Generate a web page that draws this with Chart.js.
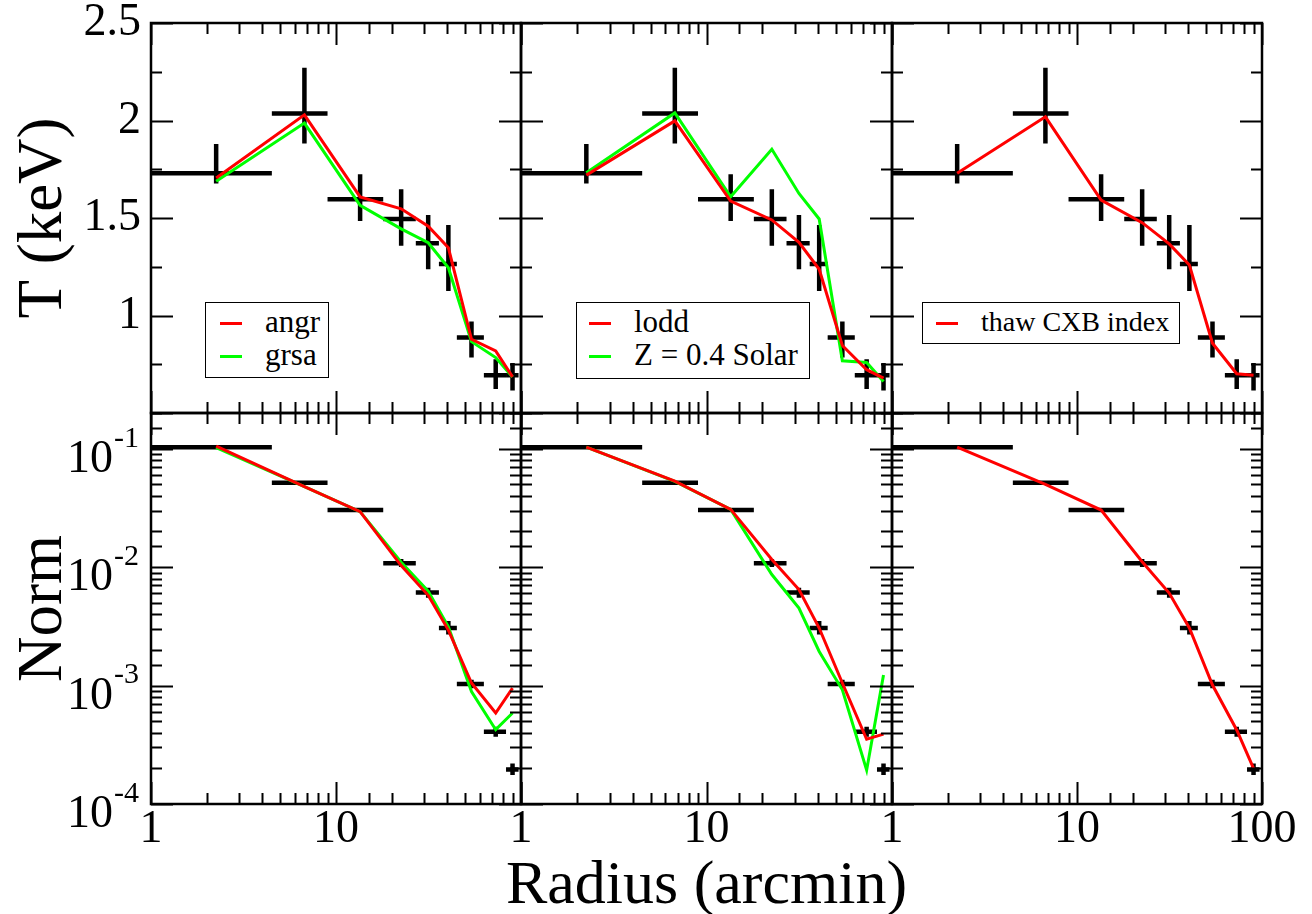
<!DOCTYPE html>
<html lang="en">
<head>
  <meta charset="UTF-8" />
  <title>T and Norm profiles</title>
  <script src="https://cdn.jsdelivr.net/npm/chart.js"></script>
  <style>
    html, body { margin: 0; padding: 0; background: #fff; }
    #wrap { position: relative; width: 1312px; height: 914px; font-family: "Liberation Serif", "Times New Roman", serif; }
    #wrap canvas { position: absolute; left: 0; top: 0; }
    .leg { position: absolute; background: #fff; border: 1.5px solid #000; box-sizing: border-box; }
    .leg .ln { position: absolute; height: 3px; width: 22px; }
    .leg .tx { position: absolute; white-space: nowrap; line-height: 32px; height: 32px; }
    #xtitle { position: absolute; left: 0; width: 1413px; top: 851px; text-align: center; font-size: 62px; line-height: 62px; white-space: nowrap; }
  </style>
</head>
<body>
  <div id="wrap">
    <div id="xtitle">Radius (arcmin)</div>
  </div>

  <script>
    // bins (arcmin)
    const radius   = [2.25, 6.75, 13.5, 22.5, 31.5, 40.5, 54, 73, 90];
    const radiusLo = [0, 4.5, 9, 18, 27, 36, 45, 63, 83];
    const radiusHi = [4.5, 9, 18, 27, 36, 45, 63, 83, 97];

    // measured temperature (keV)
    const tempObs = [1.73, 2.036, 1.596, 1.495, 1.370, 1.264, 0.887, 0.693, 0.693];
    const tempLo  = [1.677, 1.882, 1.485, 1.358, 1.237, 1.126, 0.785, 0.623, 0.616];
    const tempHi  = [1.879, 2.270, 1.724, 1.648, 1.515, 1.464, 0.969, 0.776, 0.756];

    // measured norm
    const normObs = [0.103, 0.0516, 0.0303, 0.0108, 0.0061, 0.00306, 0.00103, 0.000408, 0.000196];
    const normLo  = [0.101, 0.0505, 0.0296, 0.0100, 0.0055, 0.0027, 0.00095, 0.00037, 0.000176];
    const normHi  = [0.105, 0.0527, 0.0310, 0.0117, 0.0067, 0.0035, 0.00112, 0.00045, 0.000220];

    // fits, left column
    const tempAngr = [1.705, 2.029, 1.608, 1.547, 1.458, 1.347, 0.878, 0.818, 0.685];
    const tempGrsa = [1.688, 1.987, 1.565, 1.444, 1.373, 1.245, 0.866, 0.784, 0.685];
    const normAngr = [0.105, 0.0477, 0.0294, 0.0103, 0.00578, 0.00294, 0.00105, 0.000586, 0.00095];
    const normGrsa = [0.102, 0.0477, 0.0294, 0.0110, 0.00628, 0.00313, 0.00089, 0.000424, 0.000586];

    // fits, middle column
    const tempLodd = [1.72, 1.998, 1.587, 1.49, 1.375, 1.237, 0.846, 0.722, 0.679];
    const tempZ04  = [1.732, 2.039, 1.609, 1.853, 1.626, 1.495, 0.768, 0.759, 0.662];
    const normLodd = [0.103, 0.0532, 0.0307, 0.0116, 0.00646, 0.00306, 0.00105, 0.000352, 0.000389];
    const normZ04  = [0.103, 0.053, 0.0307, 0.00865, 0.00451, 0.00194, 0.00092, 0.000193, 0.00123];

    // fits, right column
    const tempThaw = [1.73, 2.019, 1.592, 1.476, 1.367, 1.259, 0.858, 0.701, 0.693];
    const normThaw = [0.103, 0.0499, 0.0303, 0.0111, 0.00604, 0.00306, 0.00101, 0.000422, 0.0002];

    const tempTicksShown = [1, 1.5, 2, 2.5];
    const xTicksShown = [[1, 10], [1, 10], [1, 10, 100]];

    // panel frames in page pixels
    const X0 = [151, 521, 892], X1 = [521, 892, 1262];
    const Y0 = [23, 413], Y1 = [413, 804];
    const W = 1312, H = 914;
    const FONT = '"Liberation Serif", "Times New Roman", serif';

    const wrap = document.getElementById('wrap');
    const near = (a, b) => Math.abs(a - b) < 1e-9 * Math.max(1, Math.abs(b));
    const isPow10 = v => v > 0 && Math.abs(Math.log10(v) - Math.round(Math.log10(v))) < 1e-9;

    // crosses: bin width and error range
    const errorBars = {
      id: 'errorBars',
      beforeDatasetsDraw(chart) {
        const { ctx, chartArea: a, scales: { x, y } } = chart;
        const ds = chart.data.datasets[0];
        ctx.save();
        ctx.beginPath();
        ctx.rect(a.left, a.top, a.width, a.height);
        ctx.clip();
        ctx.strokeStyle = '#000';
        ctx.lineWidth = 4.5;
        ds.data.forEach((p, i) => {
          const px = x.getPixelForValue(p.x), py = y.getPixelForValue(p.y);
          ctx.beginPath();
          ctx.moveTo(x.getPixelForValue(ds.xLo[i]), py);
          ctx.lineTo(x.getPixelForValue(ds.xHi[i]), py);
          ctx.moveTo(px, y.getPixelForValue(ds.yLo[i]));
          ctx.lineTo(px, y.getPixelForValue(ds.yHi[i]));
          ctx.stroke();
        });
        ctx.restore();
      }
    };

    // box frame with inward ticks on all four sides
    const frameTicks = {
      id: 'frameTicks',
      afterDraw(chart) {
        const { ctx, chartArea: a, scales: { x, y } } = chart;
        ctx.save();
        ctx.strokeStyle = '#000';
        ctx.lineWidth = 2;
        ctx.beginPath();
        x.ticks.forEach(t => {
          const px = Math.round(x.getPixelForValue(t.value)) + 0.5;
          const len = isPow10(t.value) ? 22 : 11;
          ctx.moveTo(px, a.bottom); ctx.lineTo(px, a.bottom - len);
          ctx.moveTo(px, a.top); ctx.lineTo(px, a.top + len);
        });
        y.ticks.forEach(t => {
          const py = Math.round(y.getPixelForValue(t.value)) + 0.5;
          const major = y.type === 'logarithmic' ? isPow10(t.value) : near(t.value * 2, Math.round(t.value * 2));
          const len = major ? 22 : 11;
          ctx.moveTo(a.left, py); ctx.lineTo(a.left + len, py);
          ctx.moveTo(a.right, py); ctx.lineTo(a.right - len, py);
        });
        ctx.stroke();
        ctx.lineWidth = 2.5;
        ctx.strokeRect(a.left, a.top, a.width, a.height);
        ctx.restore();
      }
    };

    // "10" with a raised exponent at each decade of the log axis
    const powerLabels = {
      id: 'powerLabels',
      afterDraw(chart, args, opts) {
        if (!opts.show) return;
        const { ctx, chartArea: a, scales: { y } } = chart;
        ctx.save();
        ctx.fillStyle = '#000';
        ctx.textAlign = 'right';
        ctx.textBaseline = 'middle';
        y.ticks.filter(t => isPow10(t.value)).forEach(t => {
          const py = y.getPixelForValue(t.value);
          const exp = String(Math.round(Math.log10(t.value)));
          ctx.font = '30px ' + FONT;
          const ew = ctx.measureText(exp).width;
          ctx.fillText(exp, a.left - 12, py - 10);
          ctx.font = '46px ' + FONT;
          ctx.fillText('10', a.left - 13 - ew, py + 11);
        });
        ctx.restore();
      }
    };

    const noPad = s => { s.paddingLeft = 0; s.paddingRight = 0; s.paddingTop = 0; s.paddingBottom = 0; };

    function makePanel(col, row, fits) {
      const isT = row === 0;
      const canvas = document.createElement('canvas');
      canvas.width = W;
      canvas.height = H;
      wrap.appendChild(canvas);

      const yAxisW = col === 0 ? X0[0] : 0;
      const xAxisH = row === 1 ? H - Y1[1] : 0;
      const obs = isT ? tempObs : normObs;

      const datasets = [{
        label: 'data',
        data: radius.map((r, i) => ({ x: r, y: obs[i] })),
        xLo: radiusLo, xHi: radiusHi,
        yLo: isT ? tempLo : normLo, yHi: isT ? tempHi : normHi,
        showLine: false, pointRadius: 0
      }];
      fits.forEach(f => datasets.push({
        label: f.label,
        data: radius.map((r, i) => ({ x: r, y: (isT ? f.t : f.n)[i] })),
        borderColor: f.color, borderWidth: 3, pointRadius: 0, tension: 0, fill: false
      }));

      const noGrid = { display: false, drawTicks: false };

      new Chart(canvas, {
        type: 'line',
        data: { datasets },
        options: {
          responsive: false,
          animation: false,
          layout: {
            padding: { left: X0[col] - yAxisW, right: W - X1[col], top: Y0[row], bottom: H - Y1[row] - xAxisH }
          },
          plugins: {
            legend: { display: false },
            tooltip: { enabled: false },
            powerLabels: { show: col === 0 && !isT }
          },
          scales: {
            x: {
              type: 'logarithmic', min: 1, max: 100,
              grid: noGrid, border: { display: false },
              ticks: {
                display: row === 1, autoSkip: false, maxRotation: 0, minRotation: 0, padding: -2,
                color: '#000', font: { family: FONT, size: 46 },
                callback: v => xTicksShown[col].some(s => near(v, s)) ? String(Math.round(v)) : ''
              },
              afterFit: s => { s.height = xAxisH; noPad(s); }
            },
            y: isT ? {
              type: 'linear', min: 0.5, max: 2.5,
              grid: noGrid, border: { display: false },
              ticks: {
                display: col === 0, stepSize: 0.25, autoSkip: false, padding: 10,
                color: '#000', font: { family: FONT, size: 46 },
                callback: v => tempTicksShown.some(s => near(v, s)) ? String(v) : ''
              },
              title: {
                display: col === 0, text: 'T (keV)', color: '#000',
                font: { family: FONT, size: 63, lineHeight: 1 }, padding: { top: 13, bottom: 0 }
              },
              afterFit: s => { s.width = yAxisW; noPad(s); }
            } : {
              type: 'logarithmic', min: 1e-4, max: 0.2,
              grid: noGrid, border: { display: false },
              ticks: { display: false, autoSkip: false },
              title: {
                display: col === 0, text: 'Norm', color: '#000',
                font: { family: FONT, size: 63, lineHeight: 1 }, padding: { top: 13, bottom: 0 }
              },
              afterFit: s => { s.width = yAxisW; noPad(s); }
            }
          }
        },
        plugins: [errorBars, frameTicks, powerLabels]
      });
    }

    function makeLegend(fits, box) {
      const el = document.createElement('div');
      el.className = 'leg';
      Object.assign(el.style, {
        left: box.x + 'px', top: box.y + 'px', width: box.w + 'px', height: box.h + 'px', fontSize: box.size + 'px'
      });
      fits.forEach((f, i) => {
        const cy = 20 + i * 33;
        const ln = document.createElement('span');
        ln.className = 'ln';
        Object.assign(ln.style, { left: box.line + 'px', top: (cy - 1.5) + 'px', background: f.color });
        const tx = document.createElement('span');
        tx.className = 'tx';
        tx.textContent = f.label;
        Object.assign(tx.style, { left: box.text + 'px', top: (cy - 17) + 'px' });
        el.appendChild(ln);
        el.appendChild(tx);
      });
      wrap.appendChild(el);
    }

    const fitsLeft = [
      { label: 'angr', color: '#ff0000', t: tempAngr, n: normAngr },
      { label: 'grsa', color: '#00ff00', t: tempGrsa, n: normGrsa }
    ];
    const fitsMid = [
      { label: 'lodd', color: '#ff0000', t: tempLodd, n: normLodd },
      { label: 'Z = 0.4 Solar', color: '#00ff00', t: tempZ04, n: normZ04 }
    ];
    const fitsRight = [
      { label: 'thaw CXB index', color: '#ff0000', t: tempThaw, n: normThaw }
    ];

    [fitsLeft, fitsMid, fitsRight].forEach((fits, col) => {
      makePanel(col, 0, fits);
      makePanel(col, 1, fits);
    });

    makeLegend(fitsLeft, { x: 205, y: 302, w: 124, h: 76, line: 14, text: 59, size: 31 });
    makeLegend(fitsMid, { x: 576, y: 302, w: 234, h: 77, line: 12, text: 57, size: 31 });
    makeLegend(fitsRight, { x: 922, y: 302, w: 258, h: 42, line: 13, text: 58, size: 28 });
  </script>
</body>
</html>
